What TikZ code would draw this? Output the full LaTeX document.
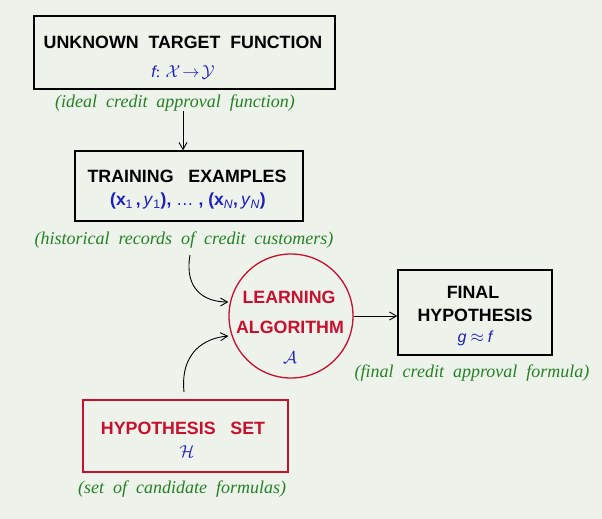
\documentclass[tikz,border=0pt]{standalone}
\usepackage{fontspec}
\setmainfont{Liberation Serif}
\setsansfont{Liberation Sans}
\usetikzlibrary{arrows.meta}
\definecolor{bg}{RGB}{237,242,235}
\definecolor{myred}{RGB}{200,16,46}
\definecolor{myblue}{RGB}{30,30,190}
\definecolor{mygreen}{RGB}{38,128,38}
\begin{document}
\begin{tikzpicture}[x=1pt,y=-1pt,
  frame/.style={draw=black, line width=1.3pt, rectangle, inner sep=0pt},
  redframe/.style={draw=myred, line width=1.3pt, rectangle, inner sep=0pt},
  title/.style={font=\fontsize{17.8}{22}\selectfont\sffamily\bfseries, inner sep=0pt},
  redtitle/.style={title, text=myred},
  mathtxt/.style={text=myblue, inner sep=0pt, font=\fontsize{16}{18}\selectfont},
  note/.style={text=mygreen, inner sep=0pt, font=\fontsize{18}{21}\selectfont\itshape},
  conn/.style={line width=0.9pt, -{Straight Barb[length=7pt,width=8pt,line width=0.9pt]}}
]
\fill[bg] (0,0) rectangle (602,519);
\useasboundingbox (0,0) rectangle (602,519);

% target function
\node[frame, minimum width=301pt, minimum height=73pt] (target) at (184.5,52.5) {};
\node[title] (targett) at (183,42) {UNKNOWN\ \ TARGET\ \ FUNCTION};
\node[mathtxt] (targetm) at (183,72) {{\sffamily\itshape f}: $\mathcal{X}\!\rightarrow\!\mathcal{Y}$};
\node[note] (ideal) at (175,103) {(ideal\ \ credit\ \ approval\ \ function)};

% training
\node[frame, minimum width=228pt, minimum height=70pt] (train) at (189,186) {};
\node[title] (traint) at (187,176) {TRAINING\ \ \ EXAMPLES};
\node[mathtxt, font=\fontsize{17.5}{20}\selectfont\sffamily] (trainm) at (188,201)
  {\textbf{(x}\textsubscript{1}\,\textbf{,}\,\textit{y}\textsubscript{1}\textbf{),}\ \dots\ \textbf{,}\ \textbf{(x}\textsubscript{\textit{N}}\textbf{,}\,\textit{y}\textsubscript{\textit{N}}\textbf{)}};
\node[note] (hist) at (184,240) {(historical\ \ records\ \ of\ \ credit\ \ customers)};

% learning algorithm
\node[draw=myred, line width=1.3pt, circle, minimum size=124pt, inner sep=0pt] (alg) at (291,316) {};
\node[redtitle] (algt1) at (289,297) {LEARNING};
\node[redtitle] (algt2) at (290,327) {ALGORITHM};
\node[mathtxt] (algm) at (290,358) {$\mathcal{A}$};

% final hypothesis
\node[frame, minimum width=154pt, minimum height=85pt] (final) at (475,312.5) {};
\node[title] (finalt1) at (473,292) {FINAL};
\node[title] (finalt2) at (475,315) {HYPOTHESIS};
\node[mathtxt] (finalm) at (475,338) {{\sffamily\itshape g} $\approx$ {\sffamily\itshape f}};
\node[note] (finaln) at (472,373) {(final\ \ credit\ \ approval\ \ formula)};

% hypothesis set
\node[redframe, minimum width=205pt, minimum height=72pt] (hyp) at (185.5,436) {};
\node[redtitle] (hypt) at (183,428) {HYPOTHESIS\ \ \ SET};
\node[mathtxt] (hypm) at (187,452) {$\mathcal{H}$};
\node[note] (cand) at (182,489) {(set\ \ of\ \ candidate\ \ formulas)};

% connectors
\coordinate (c1) at (183,111);
\coordinate (c2) at (190,255);
\coordinate (c3) at (184,392);
\draw[conn] (c1) -- (train.north -| c1);
\draw[conn] (c2) .. controls (184,290) and (205,302) .. (alg.west |- 0,302);
\draw[conn] (c3) .. controls (180,352) and (205,338) .. (alg.west |- 0,336);
\draw[conn] (alg.east) -- (alg.east -| final.west);
\end{tikzpicture}
\end{document}
